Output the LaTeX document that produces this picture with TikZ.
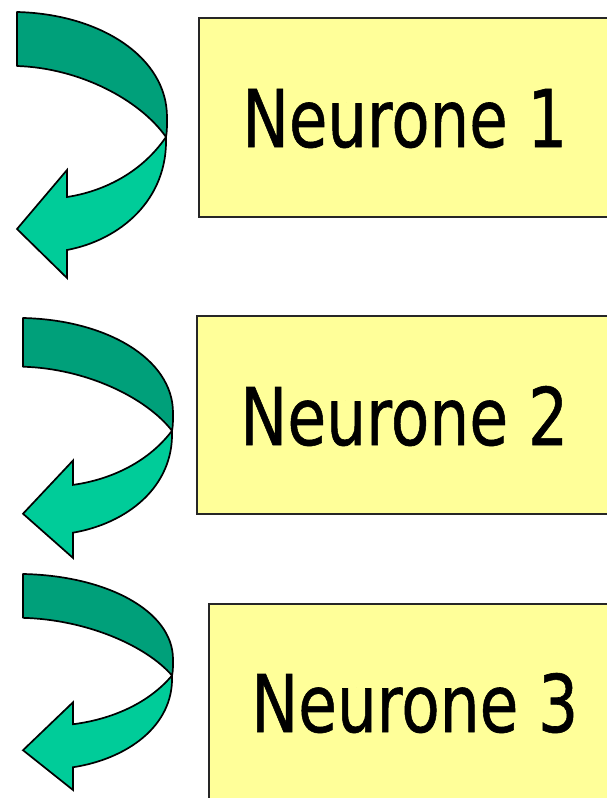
\documentclass[tikz,border=0pt]{standalone}
\usepackage{graphicx}
\usepackage{fontspec}
\setmainfont{DejaVu Sans}
\newfontfamily\panelfont{DejaVu Sans}[FakeBold=0.8]

\definecolor{bandback}{HTML}{00A07A}
\definecolor{bandfront}{HTML}{00CC99}
\definecolor{boxfill}{HTML}{FFFF99}

\tikzset{
  panel/.style={rectangle, draw=black!85, line width=1.8pt, fill=boxfill,
                inner sep=0pt, anchor=north west, minimum width=460pt},
  labeltext/.style={anchor=base west, inner sep=0pt, font=\panelfont},
  backband/.style={fill=bandback, draw=black, line width=1.7pt, line join=round},
  frontband/.style={fill=bandfront, draw=black, line width=1.7pt, line join=miter},
}

% curved ribbon arrow turning from the right back to the left
% #1,#2: position of the upper tail corner, #3: vertical scale
\newcommand{\turnarrow}[3]{%
  \begin{scope}[shift={(#1,#2)}, yscale=#3]
    \coordinate (x) at (149,125);
    \draw[backband] (0,0) .. controls (83,2) and (150,45) .. (150,105)
      .. controls (150,115) and (150,120) .. (x)
      .. controls (123,88) and (63,56) .. (0,54) -- cycle;
    \draw[frontband] (x) .. controls (151,188) and (103,228) .. (50,238)
      -- (50,266) -- (0,217) -- (50,158) -- (50,185)
      .. controls (83,180) and (123,163) .. (x) -- cycle;
  \end{scope}}

\begin{document}
\begin{tikzpicture}[x=1pt, y=-1pt]
  \useasboundingbox (0,0) rectangle (607,798);
  \clip (0,0) rectangle (607,798);
  \fill[white] (0,0) rectangle (607,798);

  % yellow panels
  \node[panel, minimum height=199pt] (box1) at (198,17) {};
  \node[panel, minimum height=198pt] (box2) at (196,315) {};
  \node[panel, minimum height=250pt] (box3) at (208,603) {};

  % panel labels
  \node[labeltext] (t1) at (242,147) {\resizebox{325pt}{58pt}{Neurone 1}};
  \node[labeltext] (t2) at (240,445) {\resizebox{328pt}{59pt}{Neurone 2}};
  \node[labeltext] (t3) at (251,732) {\resizebox{327pt}{59pt}{Neurone 3}};

  % turning arrows
  \turnarrow{17}{12}{1}
  \turnarrow{23}{318}{0.902}
  \turnarrow{23}{574}{0.812}
\end{tikzpicture}
\end{document}
